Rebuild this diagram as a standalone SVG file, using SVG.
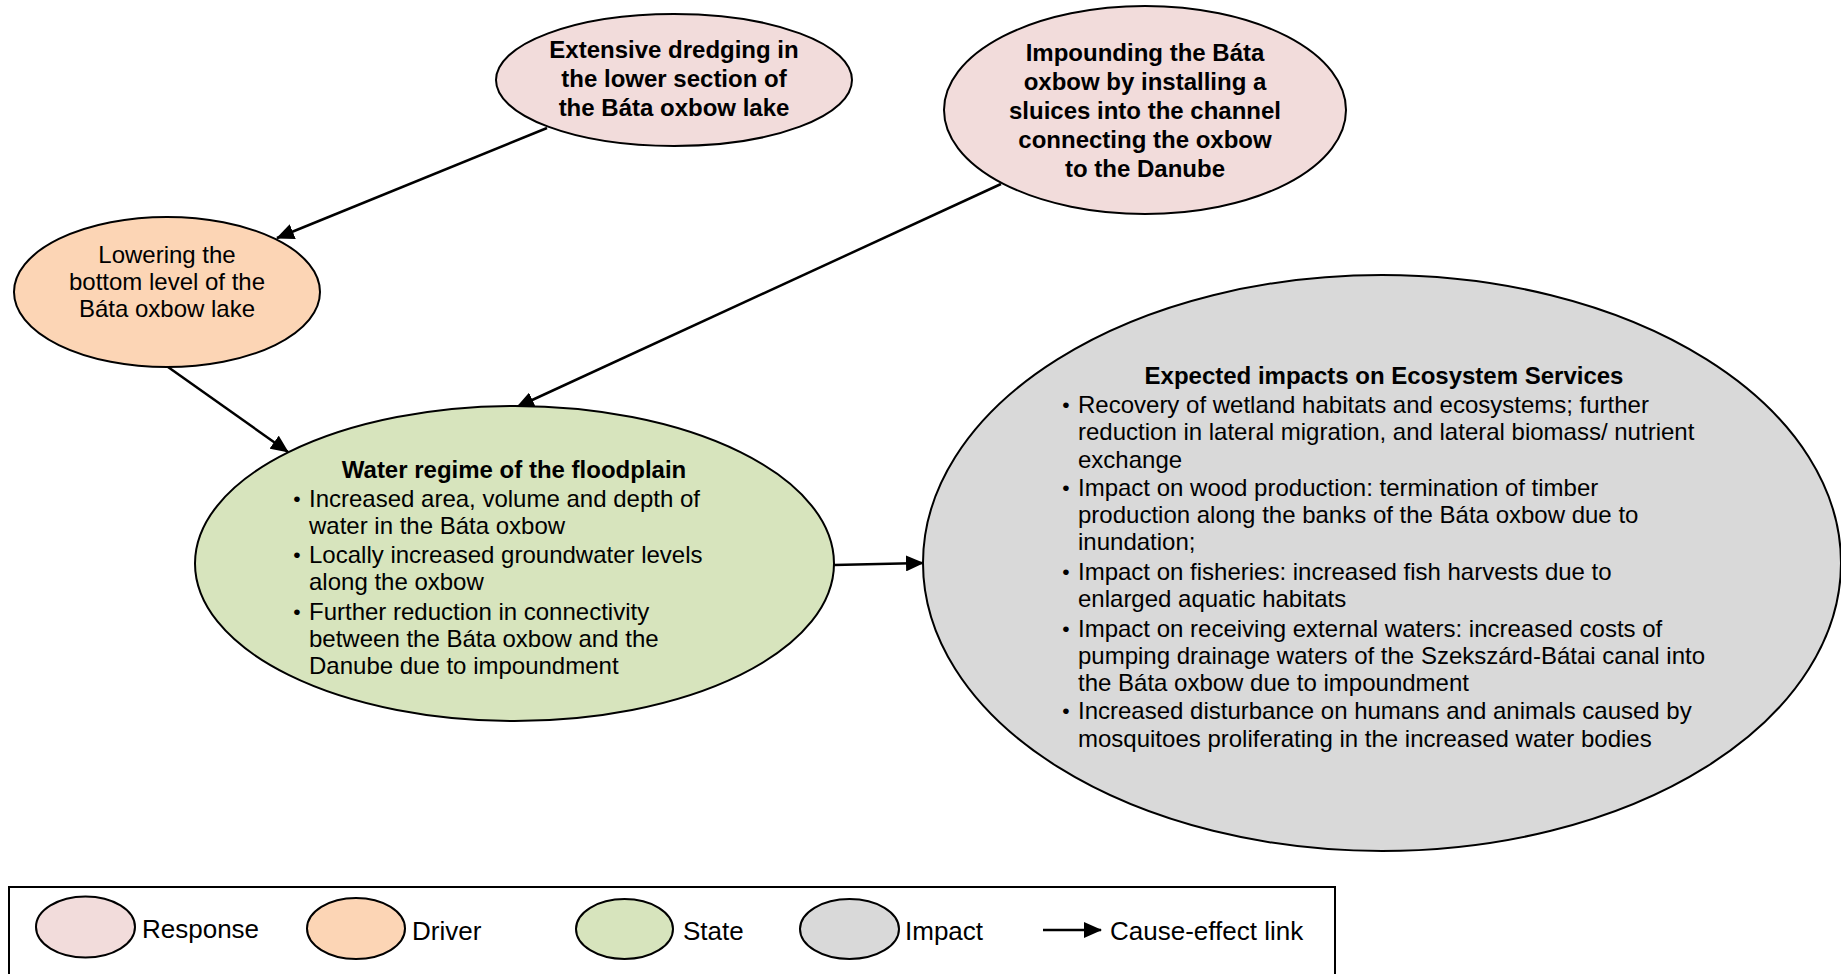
<svg xmlns="http://www.w3.org/2000/svg" width="1841" height="974" viewBox="0 0 1841 974">
<style>
.n{stroke:#000;stroke-width:2}
.resp{fill:#F2DCDB}.drv{fill:#FCD5B5}.st{fill:#D7E4BD}.imp{fill:#D9D9D9}
text{font-family:"Liberation Sans",Arial,sans-serif;font-size:24px;fill:#000}
.b{font-weight:bold}
.c{text-anchor:middle}
.bu{text-anchor:middle;font-size:21px}
.lg{font-size:26px}
.link{stroke:#000;stroke-width:2.5;fill:none;marker-end:url(#arr)}
</style>
<defs>
<marker id="arr" markerWidth="18" markerHeight="16" refX="17" refY="8" orient="auto" markerUnits="userSpaceOnUse">
<path d="M0,0 L18,8 L0,16 z" fill="#000"/>
</marker>
</defs>
<rect width="1841" height="974" fill="#fff"/>
<g id="connectors">
<line class="link" x1="547" y1="128" x2="277" y2="238"/>
<line class="link" x1="1001" y1="184" x2="517" y2="407"/>
<line class="link" x1="168" y1="367" x2="288" y2="452"/>
<line class="link" x1="834" y1="565" x2="923" y2="563"/>
</g>
<g id="node-dredging">
<ellipse class="n resp" cx="674" cy="80" rx="178" ry="66"/>
<text class="b c" x="674" y="58">Extensive dredging in</text>
<text class="b c" x="674" y="87">the lower section of</text>
<text class="b c" x="674" y="116">the Báta oxbow lake</text>
</g>
<g id="node-impounding">
<ellipse class="n resp" cx="1145" cy="110" rx="201" ry="104"/>
<text class="b c" x="1145" y="61">Impounding the Báta</text>
<text class="b c" x="1145" y="90">oxbow by installing a</text>
<text class="b c" x="1145" y="119">sluices into the channel</text>
<text class="b c" x="1145" y="148">connecting the oxbow</text>
<text class="b c" x="1145" y="177">to the Danube</text>
</g>
<g id="node-lowering">
<ellipse class="n drv" cx="167" cy="292" rx="153" ry="75"/>
<text class="c" x="167" y="263">Lowering the</text>
<text class="c" x="167" y="290">bottom level of the</text>
<text class="c" x="167" y="317">Báta oxbow lake</text>
</g>
<g id="node-water-regime">
<ellipse class="n st" cx="514.5" cy="563.5" rx="319.5" ry="157.5"/>
<text class="b c" x="514" y="478">Water regime of the floodplain</text>
<text class="bu" x="297" y="506">•</text>
<text x="309" y="507">Increased area, volume and depth of</text>
<text x="309" y="534">water in the Báta oxbow</text>
<text class="bu" x="297" y="562">•</text>
<text x="309" y="563">Locally increased groundwater levels</text>
<text x="309" y="590">along the oxbow</text>
<text class="bu" x="297" y="619">•</text>
<text x="309" y="620">Further reduction in connectivity</text>
<text x="309" y="647">between the Báta oxbow and the</text>
<text x="309" y="674">Danube due to impoundment</text>
</g>
<g id="node-impacts">
<ellipse class="n imp" cx="1382" cy="563" rx="459" ry="288"/>
<text class="b c" x="1384" y="384">Expected impacts on Ecosystem Services</text>
<text class="bu" x="1066" y="412">•</text>
<text x="1078" y="413">Recovery of wetland habitats and ecosystems; further</text>
<text x="1078" y="440">reduction in lateral migration, and lateral biomass/ nutrient</text>
<text x="1078" y="468">exchange</text>
<text class="bu" x="1066" y="495">•</text>
<text x="1078" y="496">Impact on wood production: termination of timber</text>
<text x="1078" y="523">production along the banks of the Báta oxbow due to</text>
<text x="1078" y="550">inundation;</text>
<text class="bu" x="1066" y="579">•</text>
<text x="1078" y="580">Impact on fisheries: increased fish harvests due to</text>
<text x="1078" y="607">enlarged aquatic habitats</text>
<text class="bu" x="1066" y="636">•</text>
<text x="1078" y="637">Impact on receiving external waters: increased costs of</text>
<text x="1078" y="664">pumping drainage waters of the Szekszárd-Bátai canal into</text>
<text x="1078" y="691">the Báta oxbow due to impoundment</text>
<text class="bu" x="1066" y="718">•</text>
<text x="1078" y="719">Increased disturbance on humans and animals caused by</text>
<text x="1078" y="747">mosquitoes proliferating in the increased water bodies</text>
</g>
<g id="legend">
<rect x="9" y="887" width="1326" height="120" fill="none" stroke="#000" stroke-width="2"/>
<ellipse class="n resp" cx="85.5" cy="927" rx="49.5" ry="30.5"/>
<text class="lg" x="142" y="938">Response</text>
<ellipse class="n drv" cx="356" cy="928.5" rx="49" ry="30.5"/>
<text class="lg" x="412" y="940">Driver</text>
<ellipse class="n st" cx="624.5" cy="929" rx="48.5" ry="30"/>
<text class="lg" x="683" y="940">State</text>
<ellipse class="n imp" cx="849.5" cy="929" rx="49.5" ry="30"/>
<text class="lg" x="905" y="940">Impact</text>
<line class="link" x1="1043" y1="930" x2="1101" y2="930"/>
<text class="lg" x="1110" y="940">Cause-effect link</text>
</g>
</svg>
